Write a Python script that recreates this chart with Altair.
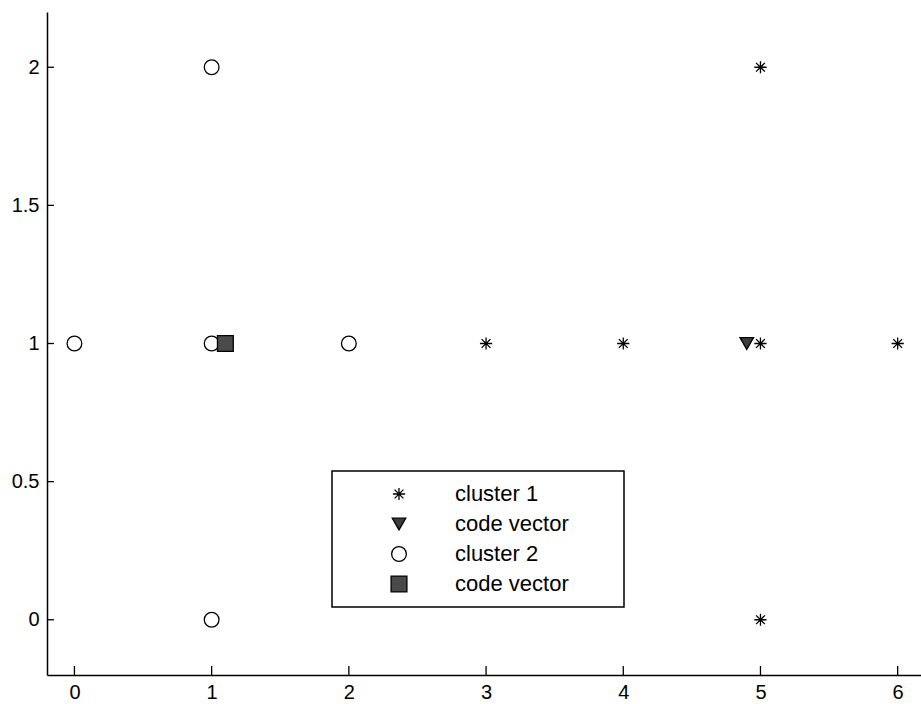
import altair as alt
import pandas as pd

# data
c1_x = [3, 4, 5, 6, 5, 5]
c1_y = [1, 1, 1, 1, 2, 0]
c2_x = [0, 1, 2, 1, 1]
c2_y = [1, 1, 1, 2, 0]
cv1 = [4.9, 1.0]
cv2 = [1.1, 1.0]
x_ticks = [0, 1, 2, 3, 4, 5, 6]
y_ticks = [0, 0.5, 1, 1.5, 2]

series = ["cluster 1", "code vector 1", "cluster 2", "code vector 2"]

rows = []
for x, y in zip(c1_x, c1_y):
    rows.append({"x": x, "y": y, "s": series[0]})
rows.append({"x": cv1[0], "y": cv1[1], "s": series[1]})
for x, y in zip(c2_x, c2_y):
    rows.append({"x": x, "y": y, "s": series[2]})
rows.append({"x": cv2[0], "y": cv2[1], "s": series[3]})
df = pd.DataFrame(rows)

W, H = 874, 663
FONT = "Liberation Sans"

asterisk = "M0,-1L0,1M-1,0L1,0M-0.72,-0.72L0.72,0.72M-0.72,0.72L0.72,-0.72"

xscale = alt.Scale(domain=[-0.2, 6.17], nice=False, zero=False)
yscale = alt.Scale(domain=[-0.2, 2.2], nice=False, zero=False)

legend = alt.Legend(
    title=None,
    orient="none",
    legendX=285,
    legendY=459,
    strokeColor="black",
    fillColor="white",
    padding=12,
    rowPadding=8,
    symbolOffset=44,
    labelOffset=45,
    labelFont=FONT,
    labelFontSize=22,
    labelLimit=300,
    labelColor="black",
    symbolStrokeWidth=1.3,
    labelExpr="(indexof(datum.label, 'code') == 0 ? 'code vector' : datum.label) + '\u00a0\u00a0\u00a0\u00a0\u00a0\u00a0\u00a0\u200b'",
)

points = alt.Chart(df).mark_point(filled=False, strokeWidth=1.3, opacity=1).encode(
    x=alt.X("x:Q", scale=xscale,
            axis=alt.Axis(values=x_ticks, ticks=False, grid=False, title=None,
                          labelFont=FONT, labelFontSize=20, labelColor="black",
                          labelPadding=7, domainColor="black", domainWidth=1.5,
                          format="d", labelFlush=False)),
    y=alt.Y("y:Q", scale=yscale,
            axis=alt.Axis(values=y_ticks, ticks=False, grid=False, title=None,
                          labelFont=FONT, labelFontSize=20, labelColor="black",
                          labelPadding=8, domainColor="black", domainWidth=1.5,
                          format="~g", labelFlush=False)),
    shape=alt.Shape("s:N", scale=alt.Scale(domain=series,
                    range=[asterisk, "triangle-down", "circle", "square"]), legend=legend),
    fill=alt.Fill("s:N", scale=alt.Scale(domain=series,
                  range=["transparent", "#3c3c3c", "transparent", "#4a4a4a"]), legend=legend),
    stroke=alt.Stroke("s:N", scale=alt.Scale(domain=series,
                      range=["black", "black", "black", "black"]), legend=legend),
    size=alt.Size("s:N", scale=alt.Scale(domain=series,
                  range=[150, 250, 185, 130]), legend=legend),
)

xt = pd.DataFrame({"v": x_ticks})
yt = pd.DataFrame({"v": y_ticks})

xtick_rules = alt.Chart(xt).mark_rule(color="black", strokeWidth=1.3).encode(
    x=alt.X("v:Q", scale=xscale), y=alt.value(H), y2=alt.value(H - 9))
ytick_rules = alt.Chart(yt).mark_rule(color="black", strokeWidth=1.3).encode(
    y=alt.Y("v:Q", scale=yscale), x=alt.value(0), x2=alt.value(7))

chart = alt.layer(xtick_rules, ytick_rules, points).properties(
    width=W, height=H,
    autosize=alt.AutoSizeParams(type="none"),
    padding={"left": 47, "top": 12, "right": 0, "bottom": 29},
    background="white",
).configure_view(stroke=None).configure_legend(strokeWidth=1.5)

chart.save("out.html", embed_options={"renderer": "svg", "actions": False})
